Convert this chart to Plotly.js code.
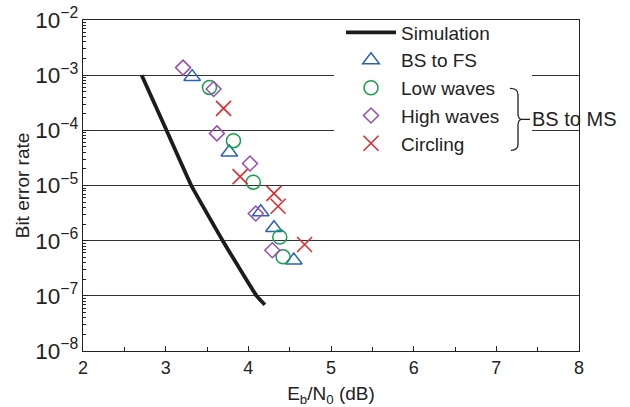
<!DOCTYPE html>
<html><head><meta charset="utf-8">
<script src="https://cdn.plot.ly/plotly-3.0.1.min.js"></script>
<style>html,body{margin:0;padding:0;background:#fff}</style></head>
<body><div id="chart" style="width:630px;height:407px"></div>
<script>
// ---- data ----
const simX = [2.71, 3.01, 3.31, 3.69, 4.10, 4.20];
const simY = [1e-3, 1e-4, 1e-5, 1e-6, 1e-7, 6.9e-8];
const fsX = [3.32, 3.77, 4.15, 4.31, 4.55];
const fsY = [9.3e-4, 4.0e-5, 3.3e-6, 1.7e-6, 4.4e-7];
const lowX = [3.53, 3.82, 4.06, 4.38, 4.42];
const lowY = [6.0e-4, 6.5e-5, 1.15e-5, 1.16e-6, 5.1e-7];
const highX = [3.21, 3.58, 3.62, 4.02, 4.09, 4.29];
const highY = [1.37e-3, 5.6e-4, 8.8e-5, 2.5e-5, 3.1e-6, 6.7e-7];
const circX = [3.70, 3.90, 4.31, 4.36, 4.68];
const circY = [2.5e-4, 1.45e-5, 7.2e-6, 4.2e-6, 8.5e-7];
const seriesNames = ['Simulation', 'BS to FS', 'Low waves', 'High waves', 'Circling'];
const groupLabel = 'BS to MS';
const xTitle = 'E<sub>b</sub>/N<sub>0</sub> (dB)';
const yTitle = 'Bit error rate';
const xTickVals = [2, 3, 4, 5, 6, 7, 8];

// ---- styling ----
const FONT = 'Liberation Sans, Arial, Helvetica, sans-serif';
const C = {sim: '#1c1c1c', fs: '#2a62b8', low: '#16a04e', high: '#9a4cb4', circ: '#e2262b'};
const M = {l: 83, r: 51, t: 19.5, b: 56};
const W = 630, H = 407;
const PW = W - M.l - M.r, PH = H - M.t - M.b;
const px2x = p => (p - M.l) / PW;
const px2y = p => 1 - (p - M.t) / PH;

function mk(x, y, name, symbol, color, size, group) {
  return {x: x, y: y, name: name, type: 'scatter', mode: 'markers', legendgroup: group,
    marker: {symbol: symbol, size: size, color: color, line: {color: color, width: 1.5}}};
}
const traces = [
  {x: simX, y: simY, name: seriesNames[0], type: 'scatter', mode: 'lines', legendgroup: 'g0',
   line: {color: C.sim, width: 3.8, shape: 'spline', smoothing: 0.3}},
  mk(fsX, fsY, seriesNames[1], 'triangle-up-open', C.fs, 14.5, 'g1'),
  mk(lowX, lowY, seriesNames[2], 'circle-open', C.low, 14, 'g2'),
  mk(highX, highY, seriesNames[3], 'diamond-open', C.high, 11.5, 'g3'),
  mk(circX, circY, seriesNames[4], 'x-thin-open', C.circ, 15, 'g4')
];

// bracket "}" geometry (pixels)
const bx0 = 510, bx1 = 518, btip = 522, by0 = 88, bym = 119, by1 = 150;
const P = (x, y) => px2x(x).toFixed(4) + ',' + px2y(y).toFixed(4);
const bracketPath = 'M' + P(bx0, by0) + ' Q' + P(bx1, by0) + ' ' + P(bx1, by0 + 6) +
  ' L' + P(bx1, bym - 6) + ' Q' + P(bx1, bym) + ' ' + P(btip, bym) +
  ' Q' + P(bx1, bym) + ' ' + P(bx1, bym + 6) + ' L' + P(bx1, by1 - 6) +
  ' Q' + P(bx1, by1) + ' ' + P(bx0 + 1, by1);

const layout = {
  width: W, height: H, margin: M,
  paper_bgcolor: '#fff', plot_bgcolor: '#fff',
  font: {family: FONT, color: '#222', size: 18},
  showlegend: true,
  legend: {x: px2x(341), y: px2y(13), xanchor: 'left', yanchor: 'top',
    bgcolor: 'rgba(0,0,0,0)', borderwidth: 0, font: {size: 19, family: FONT, color: '#222'},
    itemwidth: 50, tracegroupgap: 0, traceorder: 'normal'},
  xaxis: {type: 'linear', range: [2, 8], tickvals: xTickVals, ticks: 'inside', ticklen: 5,
    tickcolor: '#222', tickwidth: 1, showline: true, linecolor: '#222', linewidth: 1.2,
    mirror: true, showgrid: false, zeroline: false, tickfont: {size: 18},
    minor: {ticks: 'inside', ticklen: 4, dtick: 0.5, tickcolor: '#222', showgrid: false},
    title: {text: xTitle, font: {size: 19}, standoff: 11}},
  yaxis: {type: 'log', range: [-8, -2], dtick: 1, exponentformat: 'power', ticks: 'inside',
    ticklen: 6, tickcolor: '#222', showline: true, linecolor: '#222', linewidth: 1.2,
    mirror: true, showgrid: true, gridcolor: '#333', gridwidth: 1, zeroline: false,
    tickfont: {size: 18},
    minor: {ticks: 'inside', ticklen: 3, dtick: 'D1', tickcolor: '#222', showgrid: false},
    title: {text: yTitle, font: {size: 19}, standoff: 0}},
  shapes: [
    {type: 'rect', xref: 'paper', yref: 'paper', x0: px2x(334), x1: px2x(532),
     y0: px2y(21), y1: px2y(160), fillcolor: '#fff', line: {width: 0}, layer: 'above'},
    {type: 'path', xref: 'paper', yref: 'paper', path: bracketPath,
     line: {color: '#222', width: 1.3}, layer: 'above'},
    {type: 'line', xref: 'paper', yref: 'paper', x0: px2x(btip), x1: px2x(530),
     y0: px2y(bym), y1: px2y(bym), line: {color: '#222', width: 1.3}, layer: 'above'}
  ],
  annotations: [
    {text: groupLabel, xref: 'paper', yref: 'paper', x: px2x(530), y: px2y(bym),
     xanchor: 'left', yanchor: 'middle', showarrow: false,
     font: {size: 20, family: FONT, color: '#222'}}
  ]
};
Plotly.newPlot('chart', traces, layout, {displayModeBar: false, staticPlot: true});
</script></body></html>
